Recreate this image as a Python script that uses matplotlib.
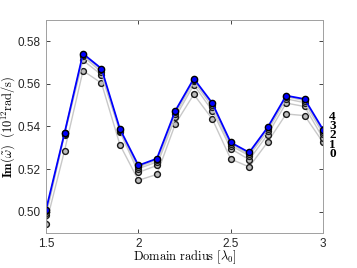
import numpy as np
import matplotlib.pyplot as plt

plt.rcParams['mathtext.fontset'] = 'cm'
plt.rcParams['font.family'] = 'Liberation Sans'

radius = [1.5, 1.6, 1.7, 1.8, 1.9, 2.0, 2.1, 2.2, 2.3, 2.4, 2.5, 2.6, 2.7, 2.8, 2.9, 3.0]

im0 = [0.4942, 0.5286, 0.5662, 0.5604, 0.5314, 0.5147, 0.5175, 0.5412, 0.5551, 0.5435,
       0.5247, 0.5210, 0.5327, 0.5459, 0.5451, 0.5325]
im1 = [0.4982, 0.5362, 0.5711, 0.5643, 0.5375, 0.5184, 0.5217, 0.5443, 0.5596, 0.5474,
       0.5296, 0.5244, 0.5362, 0.5510, 0.5494, 0.5344]
im2 = [0.4995, 0.5366, 0.5730, 0.5656, 0.5380, 0.5202, 0.5233, 0.5458, 0.5612, 0.5492,
       0.5310, 0.5263, 0.5380, 0.5530, 0.5512, 0.5366]
im3 = [0.5002, 0.5368, 0.5738, 0.5666, 0.5384, 0.5210, 0.5242, 0.5468, 0.5620, 0.5503,
       0.5318, 0.5270, 0.5390, 0.5540, 0.5522, 0.5376]
im4 = [0.5009, 0.5369, 0.5742, 0.5672, 0.5388, 0.5217, 0.5249, 0.5474, 0.5625, 0.5510,
       0.5325, 0.5278, 0.5396, 0.5545, 0.5529, 0.5385]

series = [im0, im1, im2, im3]
labels = ['4', '3', '2', '1', '0']

fig = plt.figure(figsize=(3.57, 2.68), dpi=100)
ax = fig.add_axes([0.129, 0.131, 0.776, 0.794])

for s in series:
    ax.plot(radius, s, '-o', color='#c8c8c8', lw=1.0, ms=4.2,
            mfc='#bdbdbd', mec='#1a1a1a', mew=1.0)
ax.plot(radius, im4, '-o', color='#0000ff', lw=1.3, ms=4.5,
        mfc='#0000ff', mec='#000000', mew=1.0)

ax.set_xlim(1.5, 3.0)
ax.set_ylim(0.49, 0.59)
ax.set_xticks([1.5, 2, 2.5, 3])
ax.set_xticklabels(['1.5', '2', '2.5', '3'])
ax.set_yticks([0.50, 0.52, 0.54, 0.56, 0.58])
ax.set_yticklabels(['0.50', '0.52', '0.54', '0.56', '0.58'])
ax.tick_params(direction='in', top=True, right=True, labelsize=8.5,
               colors='#262626', length=3, width=0.6, pad=4)
for sp in ax.spines.values():
    sp.set_color('#a0a0a0')
    sp.set_linewidth(0.7)

ax.set_xlabel(r'$\mathrm{Domain\ radius\ [\lambda_0]}$', fontsize=9)
ax.xaxis.set_label_coords(0.5, -0.075)
ax.set_ylabel(r'$\mathbf{Im}(\tilde{\omega})\ \ (10^{12}\mathrm{rad/s})$', fontsize=9)
ax.yaxis.set_label_coords(-0.105, 0.5)

fig.text(0.922, 0.495, '\n'.join(labels), fontsize=9.5, family='Liberation Serif',
         weight='bold', ha='left', va='center', linespacing=0.69)

fig.savefig('out.png', dpi=100)
